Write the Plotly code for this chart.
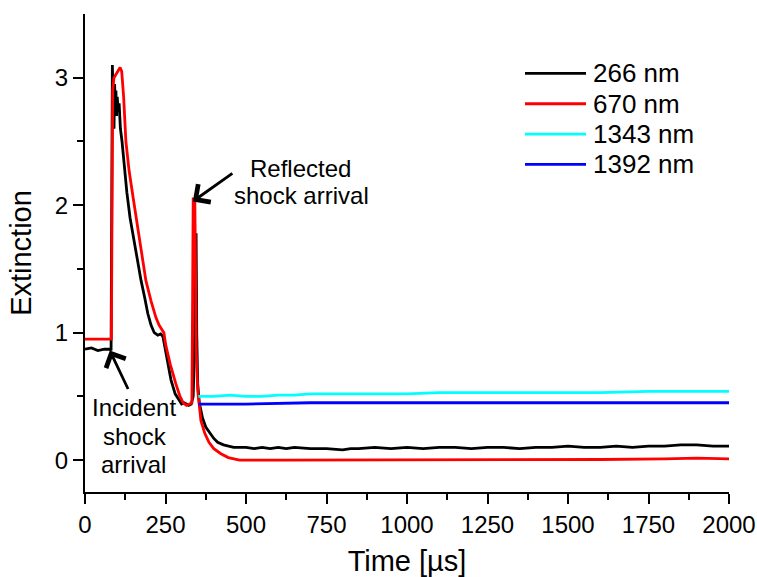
import plotly.graph_objects as go

# ---------------- data ----------------
series_names = ["266 nm", "670 nm", "1343 nm", "1392 nm"]
series_colors = ["#000000", "#FF0000", "#00FFFF", "#0000FF"]

t_266 = [0, 20, 40, 60, 78, 81, 83, 85, 88, 90, 92, 94, 96, 98, 100, 103, 106, 110, 115, 120, 124,
         130, 140, 150, 160, 174, 185, 195, 205, 215, 226, 235, 242, 250, 260, 267, 280, 290, 300,
         308, 315, 322, 330, 336, 340, 343, 345, 347, 350, 355, 365, 375, 385, 400, 412, 430, 462,
         500, 525, 550, 575, 600, 625, 650, 700, 750, 800, 825, 850, 900, 950, 1000, 1050, 1100,
         1150, 1200, 1250, 1300, 1350, 1400, 1450, 1500, 1550, 1600, 1650, 1700, 1750, 1800, 1850,
         1900, 1950, 2000]
e_266 = [0.87, 0.88, 0.86, 0.87, 0.87, 0.86, 2.0, 3.1, 2.7, 2.6, 2.95, 2.75, 2.9, 2.7, 2.85, 2.75,
         2.8, 2.6, 2.5, 2.35, 2.27, 2.1, 1.9, 1.75, 1.6, 1.41, 1.28, 1.15, 1.06, 1.0, 0.98, 0.99,
         0.97, 0.85, 0.72, 0.63, 0.52, 0.48, 0.44, 0.45, 0.44, 0.43, 0.44, 0.5, 0.9, 1.78, 1.78,
         1.0, 0.6, 0.45, 0.33, 0.26, 0.22, 0.17, 0.14, 0.12, 0.10,
         0.10, 0.09, 0.10, 0.09, 0.10, 0.09, 0.10, 0.09, 0.09, 0.08, 0.09, 0.09, 0.10, 0.09, 0.10,
         0.09, 0.10, 0.10, 0.09, 0.10, 0.10, 0.09, 0.10, 0.10, 0.11, 0.10, 0.10, 0.11, 0.10, 0.11,
         0.11, 0.12, 0.12, 0.11, 0.11]

t_670 = [0, 82, 84, 86, 90, 100, 109, 114, 120, 127, 137, 150, 160, 175, 189, 205, 220, 230, 238,
         245, 251, 265, 282, 295, 305, 315, 325, 332, 334, 336, 341, 343, 346, 350, 360, 372, 385,
         400, 422, 445, 462, 480, 600, 800, 1000, 1200, 1400, 1600, 1800, 1900, 2000]
e_670 = [0.95, 0.95, 2.0, 2.9, 3.0, 3.04, 3.08, 3.05, 2.85, 2.5, 2.27, 2.05, 1.88, 1.62, 1.41,
         1.25, 1.12, 1.06, 1.03, 1.0, 0.9, 0.75, 0.6, 0.5, 0.45, 0.43, 0.44, 0.45, 1.2, 2.05, 2.05,
         1.5, 0.8, 0.55, 0.31, 0.21, 0.14, 0.09, 0.05, 0.02, 0.01, 0.0, 0.0, 0.0, 0.0, 0.0, 0.0,
         0.005, 0.01, 0.015, 0.01]

t_1343 = [352, 400, 450, 500, 550, 600, 650, 700, 750, 800, 900, 1000, 1100, 1250, 1400, 1500,
          1600, 1750, 1900, 2000]
e_1343 = [0.50, 0.50, 0.51, 0.50, 0.50, 0.51, 0.51, 0.52, 0.52, 0.52, 0.52, 0.52, 0.53, 0.53,
          0.53, 0.53, 0.53, 0.54, 0.54, 0.54]

t_1392 = [352, 500, 700, 900, 1000, 1200, 1500, 1800, 2000]
e_1392 = [0.44, 0.44, 0.45, 0.45, 0.45, 0.45, 0.45, 0.45, 0.45]

x_ticks = [0, 250, 500, 750, 1000, 1250, 1500, 1750, 2000]
y_ticks = [0, 1, 2, 3]

# ---------------- figure ----------------
fig = go.Figure()
for tx, ey, name, col in zip([t_266, t_670, t_1343, t_1392], [e_266, e_670, e_1343, e_1392],
                             series_names, series_colors):
    fig.add_trace(go.Scatter(x=tx, y=ey, mode="lines", name=name,
                             line=dict(color=col, width=2.8), showlegend=False))

FONT = "Liberation Sans, Arial, sans-serif"
PW, PH = 644.0, 478.25  # plot-area size in px

# manual legend (long line samples as in the reference)
for i, (name, col) in enumerate(zip(series_names, series_colors)):
    ypos = 1 - (59.5 + 30.3 * i) / PH
    fig.add_shape(type="line", xref="paper", yref="paper",
                  x0=(525 - 85) / PW, x1=(586 - 85) / PW, y0=ypos, y1=ypos,
                  line=dict(color=col, width=2.8))
    fig.add_annotation(xref="paper", yref="paper", x=(591 - 85) / PW, y=ypos,
                       text=name, showarrow=False, xanchor="left", yanchor="middle",
                       font=dict(family=FONT, size=26, color="black"))

# annotations
ann_font = dict(family=FONT, size=24, color="black")
fig.add_annotation(x=335, y=2.03, xref="x", yref="y", text="", showarrow=True,
                   arrowhead=4, arrowsize=1.5, arrowwidth=2.8, arrowcolor="black",
                   ax=41, ay=-29, standoff=0)
fig.add_annotation(x=77, y=0.86, xref="x", yref="y", text="", showarrow=True,
                   arrowhead=4, arrowsize=1.5, arrowwidth=2.8, arrowcolor="black",
                   ax=19, ay=40, standoff=0)
for txt, xv, yv in [("Reflected", 670, 2.29), ("shock arrival", 672, 2.08),
                    ("Incident", 152, 0.41), ("shock", 155, 0.185), ("arrival", 152, -0.035)]:
    fig.add_annotation(x=xv, y=yv, xref="x", yref="y", text=txt, showarrow=False,
                       xanchor="center", yanchor="middle", font=ann_font)

axis_common = dict(showline=True, linecolor="black", linewidth=2, ticks="outside",
                   tickcolor="black", tickwidth=2, ticklen=10, showgrid=False,
                   zeroline=False, mirror=False, automargin=False,
                   tickfont=dict(family=FONT, size=24, color="black"))

fig.update_xaxes(range=[0, 2000], tickvals=x_ticks, ticktext=[str(v) for v in x_ticks],
                 minor=dict(ticks="outside", ticklen=6, tickwidth=2, tickcolor="black",
                            tickvals=[125, 375, 625, 875, 1125, 1375, 1625, 1875]),
                 title=dict(text="Time [µs]", font=dict(family=FONT, size=29, color="black"),
                            standoff=17),
                 **axis_common)
fig.update_yaxes(range=[-0.25, 3.5], tickvals=y_ticks, ticktext=[str(v) for v in y_ticks],
                 minor=dict(ticks="outside", ticklen=6, tickwidth=2, tickcolor="black",
                            tickvals=[0.5, 1.5, 2.5]),
                 title=dict(text="Extinction", font=dict(family=FONT, size=29, color="black"),
                            standoff=15),
                 **axis_common)

fig.update_layout(width=757, height=577, margin=dict(l=85, r=28, t=14, b=85),
                  plot_bgcolor="white", paper_bgcolor="white", showlegend=False,
                  font=dict(family=FONT, color="black"))

# remove the default page margin so the 757x577 figure fills the window exactly
fig.write_html("out.html", config={"displayModeBar": False},
               post_script="document.body.style.margin='0';document.body.style.overflow='hidden';")
